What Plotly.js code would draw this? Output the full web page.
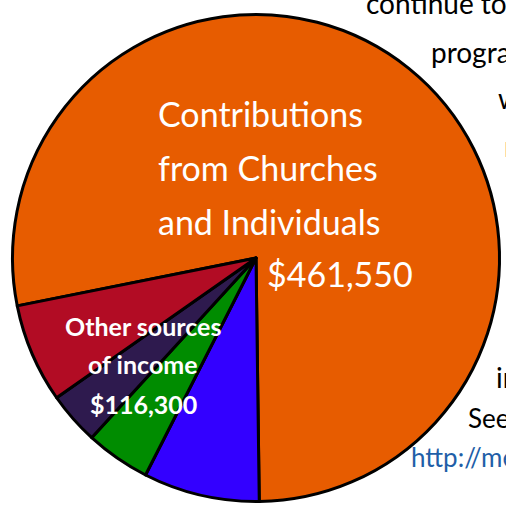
<!DOCTYPE html>
<html>
<head>
<meta charset="utf-8">
<script src="https://cdn.plot.ly/plotly-3.0.1.min.js"></script>
<style>html,body{margin:0;padding:0;background:#fff;overflow:hidden;}#chart{width:506px;height:508px;}</style>
</head>
<body>
<div id="chart"></div>
<script>
// Slice labels (clockwise from the left edge of the big slice)
var categories = ["Contributions from Churches and Individuals", "Source B", "Source C", "Source D", "Source E"];
// Values
var values = [461550, 45650, 25430, 20610, 38970];
var sliceColors = ["#E75C00", "#3300FF", "#008C00", "#2E1A4E", "#B20C24"];
// Printed labels
var mainLabelLines = ["Contributions", "from Churches", "and Individuals"];
var mainAmount = "$461,550";
var otherLabelLines = ["Other sources", "of income", "$116,300"];
// Partially visible document text at the right edge
var sideText = ["continue to", "progra", "w", "r", "in", "See"];
var sideLink = "http://me";

var W = 506, H = 508;
function px(x){ return x / W; }
function py(y){ return 1 - y / H; }

var annotations = [];
var mainY = [113, 167, 221];
mainLabelLines.forEach(function(t, i){
  annotations.push({text: t, x: px(156), y: py(mainY[i]), xref: "paper", yref: "paper",
    xanchor: "left", yanchor: "middle", showarrow: false,
    font: {family: "Lato, sans-serif", size: 34, color: "#ffffff"}});
});
annotations.push({text: mainAmount, x: px(265), y: py(273), xref: "paper", yref: "paper",
  xanchor: "left", yanchor: "middle", showarrow: false,
  font: {family: "Lato, sans-serif", size: 34, color: "#ffffff"}});
var otherY = [326, 364, 404];
otherLabelLines.forEach(function(t, i){
  annotations.push({text: "<b>" + t + "</b>", x: px(143), y: py(otherY[i]), xref: "paper", yref: "paper",
    xanchor: "center", yanchor: "middle", showarrow: false,
    font: {family: "Lato, sans-serif", size: 25, color: "#ffffff"}});
});
var sideX = [364, 429, 496, 502, 494, 466];
var sideY = [3, 52, 98, 146, 377, 418];
var sideSize = [28, 28, 28, 28, 28, 26];
sideText.forEach(function(t, i){
  annotations.push({text: t, x: px(sideX[i]), y: py(sideY[i]), xref: "paper", yref: "paper",
    xanchor: "left", yanchor: "middle", showarrow: false,
    font: {family: "Lato, sans-serif", size: sideSize[i], color: "#000000"}});
});
annotations.push({text: sideLink, x: px(409), y: py(457), xref: "paper", yref: "paper",
  xanchor: "left", yanchor: "middle", showarrow: false,
  font: {family: "Lato, sans-serif", size: 26, color: "#1F5FA8"}});

var trace = {
  type: "pie",
  labels: categories,
  values: values,
  sort: false,
  direction: "clockwise",
  rotation: -101.34,
  textinfo: "none",
  hoverinfo: "none",
  marker: {colors: sliceColors, line: {color: "#000000", width: 3}},
  domain: {x: [0.0247, 0.9872], y: [0.0128, 0.9715]}
};

var layout = {
  width: W, height: H,
  margin: {l: 0, r: 0, t: 0, b: 0},
  paper_bgcolor: "#ffffff",
  showlegend: false,
  annotations: annotations
};

Plotly.newPlot("chart", [trace], layout, {staticPlot: true, displayModeBar: false});
</script>
</body>
</html>
